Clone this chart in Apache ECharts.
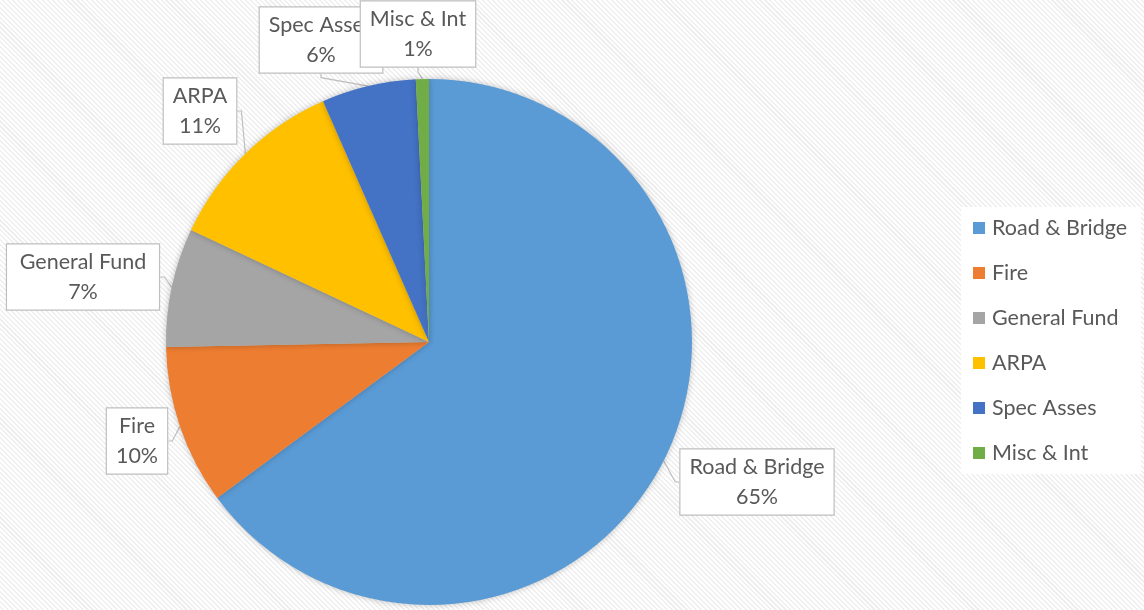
<!DOCTYPE html>
<html>
<head>
<meta charset="utf-8">
<script src="https://cdn.jsdelivr.net/npm/echarts@6/dist/echarts.min.js"></script>
<style>
  html, body { margin: 0; padding: 0; }
  #chart {
    width: 1144px; height: 610px;
    background: repeating-linear-gradient(45deg, #ffffff 0px, #ffffff 2px, #efefef 2px, #efefef 3.5px);
  }
</style>
</head>
<body>
<div id="chart"></div>
<script>
var categories = ['Road & Bridge', 'Fire', 'General Fund', 'ARPA', 'Spec Asses', 'Misc & Int'];
var values = [64.9, 9.8, 7.3, 11.4, 5.8, 0.8];
var colors = ['#5B9BD5', '#ED7D31', '#A5A5A5', '#FFC000', '#4472C4', '#70AD47'];
var labelCenters = [[757, 482], [137, 441], [83, 277], [200, 111], [321, 40], [418, 34]];

var chart = echarts.init(document.getElementById('chart'), null, { renderer: 'canvas' });
var FONT = 'Lato';
chart.setOption({
  backgroundColor: 'transparent',
  animation: false,
  color: colors,
  legend: {
    orient: 'vertical',
    left: 961,
    top: 207,
    backgroundColor: '#ffffff',
    padding: [10, 14, 10, 12],
    itemWidth: 12,
    itemHeight: 12,
    itemGap: 23,
    icon: 'rect',
    textStyle: { fontFamily: FONT, fontSize: 21.5, color: '#595959', lineHeight: 20, padding: [0, 0, 0, 2] },
    data: categories
  },
  series: [{
    type: 'pie',
    center: [429, 342],
    radius: 263,
    startAngle: 90,
    clockwise: true,
    percentPrecision: 0,
    itemStyle: { shadowBlur: 6, shadowColor: 'rgba(0,0,0,0.25)' },
    label: {
      show: true,
      position: 'outside',
      formatter: function (p) { return p.name + '\n' + Math.round(p.percent) + '%'; },
      fontFamily: FONT,
      fontSize: 21.5,
      lineHeight: 30,
      color: '#595959',
      align: 'center',
      backgroundColor: '#ffffff',
      borderColor: '#bfbfbf',
      borderWidth: 1.2,
      padding: [3, 9, 2, 9]
    },
    labelLine: { show: true, length: 6, length2: 4, lineStyle: { color: '#bfbfbf', width: 1.2 } },
    labelLayout: function (p) {
      var c = labelCenters[p.dataIndex];
      return { x: c[0], y: c[1], align: 'center', verticalAlign: 'middle' };
    },
    data: categories.map(function (n, i) { return { name: n, value: values[i] }; })
  }]
});
</script>
</body>
</html>
